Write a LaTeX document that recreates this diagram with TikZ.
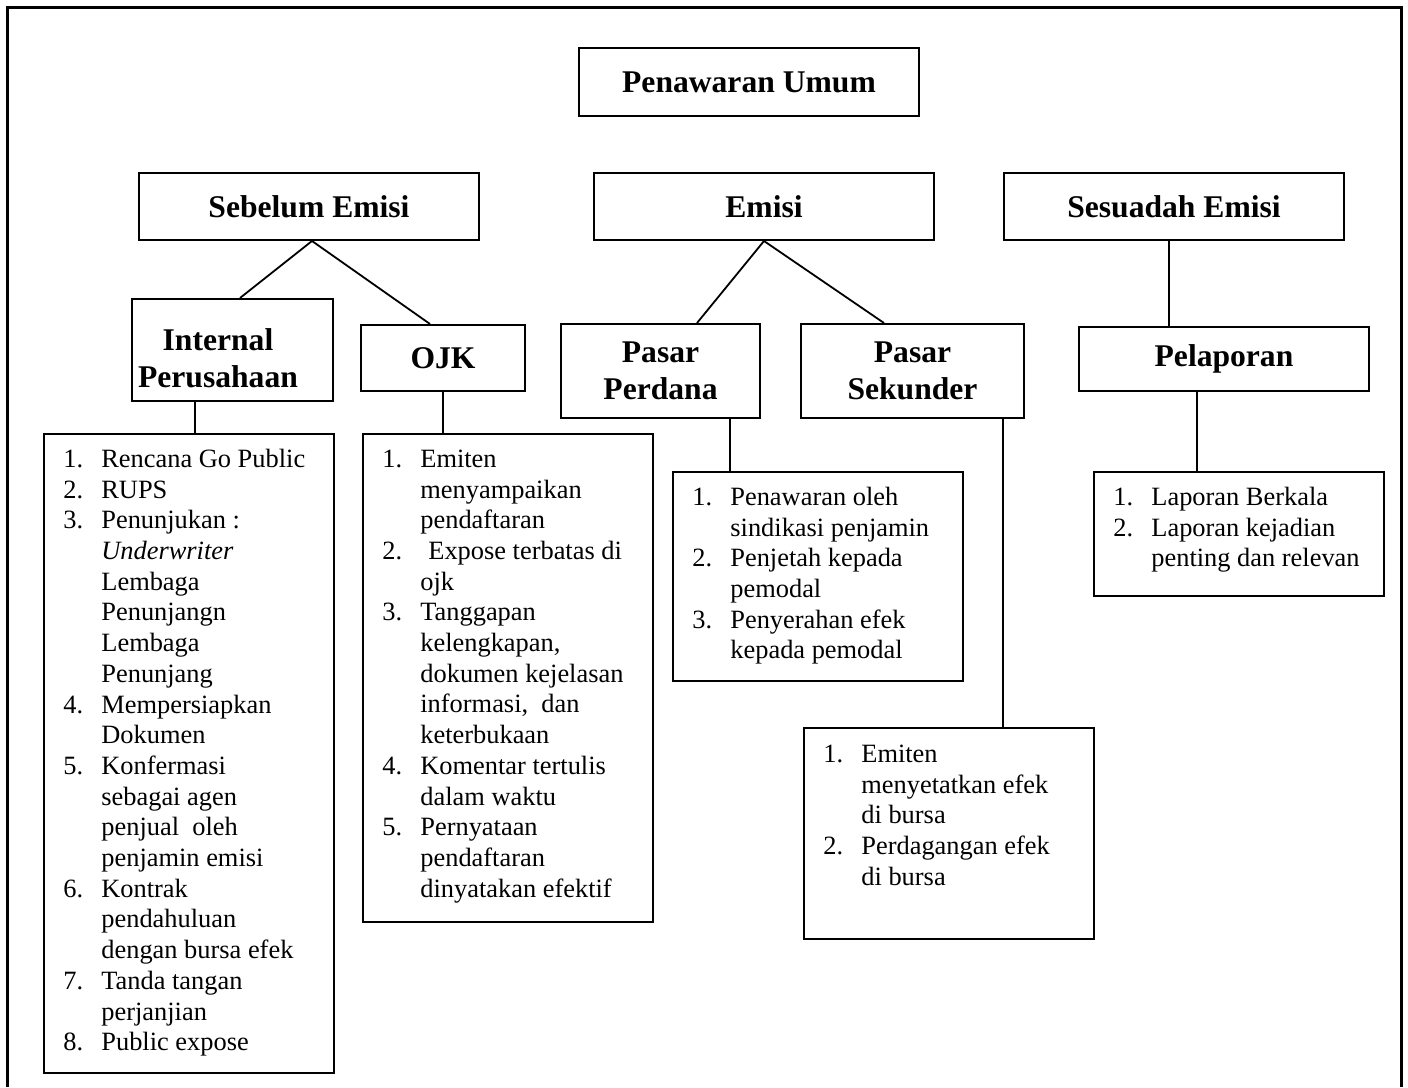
\documentclass[tikz,border=0pt]{standalone}
\usepackage{fontspec}
\setmainfont{Liberation Serif}
\usetikzlibrary{calc}
\newcommand{\nm}[1]{\makebox[19pt][l]{#1}}
\begin{document}
\begin{tikzpicture}[x=0.5pt,y=-0.5pt,
  hbox/.style={draw, line width=1pt, inner sep=0pt, font=\fontsize{15.8}{18.5}\selectfont\bfseries, align=center},
  lbox/.style={draw, line width=1pt, inner sep=0pt, anchor=north west},
  ltext/.style={inner sep=0pt, anchor=north west, font=\fontsize{13.2}{15.35}\selectfont},
  conn/.style={line width=0.9pt}]
\useasboundingbox (0,0) rectangle (1408,1087);
\draw[line width=1.5pt] (7,1087) -- (7,7) -- (1401,7) -- (1401,1087);

% header boxes
\node[hbox, minimum width=170pt, minimum height=34pt] (pu) at (749,82) {Penawaran Umum};
\node[hbox, minimum width=170pt, minimum height=33.5pt] (se) at (309,206.5) {Sebelum Emisi};
\node[hbox, minimum width=170pt, minimum height=33.5pt] (em) at (764,206.5) {Emisi};
\node[hbox, minimum width=170pt, minimum height=33.5pt] (sd) at (1174,206.5) {Sesuadah Emisi};

\node[hbox, minimum width=100.5pt, minimum height=51pt] (ip) at (232.5,350) {};
\node[inner sep=0pt, font=\fontsize{15.8}{18.5}\selectfont\bfseries, align=center] (ipt) at (218,358) {Internal\\Perusahaan};
\node[hbox, minimum width=82pt, minimum height=33pt] (ojk) at (443,358) {OJK};
\node[hbox, minimum width=99.5pt, minimum height=47pt] (pp) at (660.5,371) {Pasar\\Perdana};
\node[hbox, minimum width=111.5pt, minimum height=47pt] (ps) at (912.5,371) {Pasar\\Sekunder};
\node[hbox, minimum width=145pt, minimum height=32pt] (rp) at (1224,359) {Pelaporan};

% list boxes
\node[lbox, minimum width=145pt, minimum height=319.5pt] (il) at (43,433) {};
\node[lbox, minimum width=145pt, minimum height=244pt] (ol) at (362,433) {};
\node[lbox, minimum width=145pt, minimum height=104.5pt] (pl) at (672,471) {};
\node[lbox, minimum width=145pt, minimum height=105.5pt] (sl) at (803,727) {};
\node[lbox, minimum width=145pt, minimum height=62pt] (rl) at (1093,471) {};

% list texts
\node[ltext] (ilt) at (63,445.5) {\begin{tabular}{@{}l@{}}
\nm{1.}Rencana Go Public\\
\nm{2.}RUPS\\
\nm{3.}Penunjukan :\\
\nm{}\textit{Underwriter}\\
\nm{}Lembaga\\
\nm{}Penunjangn\\
\nm{}Lembaga\\
\nm{}Penunjang\\
\nm{4.}Mempersiapkan\\
\nm{}Dokumen\\
\nm{5.}Konfermasi\\
\nm{}sebagai agen\\
\nm{}penjual\ \ oleh\\
\nm{}penjamin emisi\\
\nm{6.}Kontrak\\
\nm{}pendahuluan\\
\nm{}dengan bursa efek\\
\nm{7.}Tanda tangan\\
\nm{}perjanjian\\
\nm{8.}Public expose
\end{tabular}};

\node[ltext] (olt) at (382,445.5) {\begin{tabular}{@{}l@{}}
\nm{1.}Emiten\\
\nm{}menyampaikan\\
\nm{}pendaftaran\\
\nm{2.}\hspace{4pt}Expose terbatas di\\
\nm{}ojk\\
\nm{3.}Tanggapan\\
\nm{}kelengkapan,\\
\nm{}dokumen kejelasan\\
\nm{}informasi,\ \ dan\\
\nm{}keterbukaan\\
\nm{4.}Komentar tertulis\\
\nm{}dalam waktu\\
\nm{5.}Pernyataan\\
\nm{}pendaftaran\\
\nm{}dinyatakan efektif
\end{tabular}};

\node[ltext] (plt) at (692,483.5) {\begin{tabular}{@{}l@{}}
\nm{1.}Penawaran oleh\\
\nm{}sindikasi penjamin\\
\nm{2.}Penjetah kepada\\
\nm{}pemodal\\
\nm{3.}Penyerahan efek\\
\nm{}kepada pemodal
\end{tabular}};

\node[ltext] (slt) at (823,740.5) {\begin{tabular}{@{}l@{}}
\nm{1.}Emiten\\
\nm{}menyetatkan efek\\
\nm{}di bursa\\
\nm{2.}Perdagangan efek\\
\nm{}di bursa
\end{tabular}};

\node[ltext] (rlt) at (1113,483.5) {\begin{tabular}{@{}l@{}}
\nm{1.}Laporan Berkala\\
\nm{2.}Laporan kejadian\\
\nm{}penting dan relevan
\end{tabular}};

% connectors
\draw[conn] ([xshift=1.5pt]se.south) -- ([xshift=3.75pt]ip.north);
\draw[conn] ([xshift=1.5pt]se.south) -- ([xshift=-6.5pt]ojk.north);
\draw[conn] ([xshift=-18.75pt]ip.south) -- ([xshift=-18.75pt]ip.south |- il.north);
\draw[conn] (ojk.south) -- (ojk.south |- ol.north);
\draw[conn] (em.south) -- ([xshift=18.25pt]pp.north);
\draw[conn] (em.south) -- ([xshift=-14.25pt]ps.north);
\draw[conn] ([xshift=34.75pt]pp.south) -- ([xshift=34.75pt]pp.south |- pl.north);
\draw[conn] ([xshift=45.25pt]ps.south) -- ([xshift=45.25pt]ps.south |- sl.north);
\draw[conn] ([xshift=-2.5pt]sd.south) -- ([xshift=-2.5pt]sd.south |- rp.north);
\draw[conn] ([xshift=-13.5pt]rp.south) -- ([xshift=-13.5pt]rp.south |- rl.north);
\end{tikzpicture}
\end{document}
